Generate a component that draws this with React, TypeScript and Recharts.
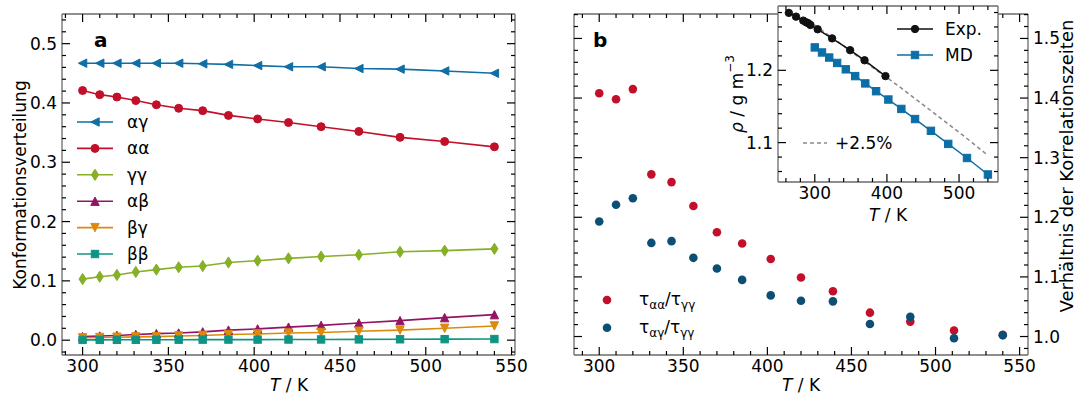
import React from 'react';
import { LineChart, ComposedChart, Line, Scatter, XAxis, YAxis, Legend, CartesianGrid } from 'recharts';

// ---------------- data ----------------
const temperatures = [300, 310, 320, 331, 343, 356, 370, 385, 402, 420, 439, 461, 485, 511, 540];
const alphaGamma = [0.467, 0.467, 0.467, 0.467, 0.467, 0.467, 0.466, 0.465, 0.463, 0.461, 0.461, 0.458, 0.457, 0.454, 0.45];
const alphaAlpha = [0.421, 0.414, 0.41, 0.404, 0.397, 0.391, 0.387, 0.379, 0.373, 0.367, 0.36, 0.352, 0.342, 0.335, 0.326];
const gammaGamma = [0.103, 0.107, 0.11, 0.115, 0.119, 0.123, 0.125, 0.131, 0.134, 0.138, 0.141, 0.144, 0.149, 0.151, 0.154];
const alphaBeta = [0.006, 0.007, 0.008, 0.0095, 0.011, 0.012, 0.014, 0.017, 0.019, 0.022, 0.025, 0.029, 0.033, 0.038, 0.043];
const betaGamma = [0.004, 0.0045, 0.005, 0.0055, 0.006, 0.007, 0.008, 0.0095, 0.0105, 0.012, 0.013, 0.015, 0.017, 0.02, 0.024];
const betaBeta = [0.0005, 0.0005, 0.0006, 0.0007, 0.0007, 0.0008, 0.0009, 0.001, 0.001, 0.0011, 0.0012, 0.0013, 0.0015, 0.0017, 0.0019];

const ratioAA = [1.408, 1.398, 1.415, 1.272, 1.259, 1.219, 1.175, 1.156, 1.13, 1.099, 1.076, 1.04, 1.025, 1.01, 1.003];
const ratioAG = [1.193, 1.221, 1.232, 1.157, 1.16, 1.132, 1.114, 1.095, 1.069, 1.06, 1.059, 1.021, 1.033, 0.997, 1.002];

const expTemperatures = [264, 274, 284, 288, 291, 294, 304, 324, 349, 369, 398];
const expDensity = [1.2795, 1.2743, 1.2688, 1.2665, 1.2651, 1.2628, 1.2568, 1.2442, 1.2279, 1.2139, 1.192];
const mdDensity = [1.2317, 1.2247, 1.2177, 1.2102, 1.2014, 1.192, 1.1819, 1.1711, 1.1596, 1.1466, 1.1326, 1.1163, 1.0982, 1.0787, 1.0559];
const mdDensityPlus = [1.2625, 1.2553, 1.2481, 1.2405, 1.2314, 1.2218, 1.2114, 1.2004, 1.1886, 1.1753, 1.1609, 1.1442, 1.1257, 1.1057, 1.0823];

// tick labels
const leftXMajor = [300, 350, 400, 450, 500, 550];
const leftYMajor = [0, 0.1, 0.2, 0.3, 0.4, 0.5];
const rightYMajor = [1.0, 1.1, 1.2, 1.3, 1.4, 1.5];
const insetXMajor = [300, 400, 500];
const insetYMajor = [1.1, 1.2];

// ---------------- helpers ----------------
const FONT = '"DejaVu Sans", sans-serif';
const steps = (a: number, b: number, s: number) => {
  const out: number[] = [];
  const n = Math.round((b - a) / s);
  for (let i = 0; i <= n; i++) out.push(Math.round((a + i * s) * 1e6) / 1e6);
  return out;
};

const C = {
  ag: '#0f6ea5',
  aa: '#c2102b',
  gg: '#86b026',
  ab: '#931465',
  bg: '#dc8a0c',
  bb: '#0f9484',
  ratioAG: '#0b4f75',
  md: '#0c6ea6',
};

type Side = 'bottom' | 'top' | 'left' | 'right';
function tickRenderer(side: Side, majors: number[], labels: boolean, digits: number) {
  return (props: any) => {
    const { x, y, payload, index } = props;
    const v = Number(payload.value);
    const isMajor = majors.some((m) => Math.abs(m - v) < 1e-7);
    const len = isMajor ? 8 : 4;
    let x2 = x;
    let y2 = y;
    if (side === 'bottom') y2 = y - len;
    else if (side === 'top') y2 = y + len;
    else if (side === 'left') x2 = x + len;
    else x2 = x - len;
    let label: any = null;
    if (labels && isMajor) {
      const t = v.toFixed(digits);
      const common = { fontSize: 17, fontFamily: FONT, fill: '#000' };
      if (side === 'bottom') label = <text x={x} y={y + 17} textAnchor="middle" {...common}>{t}</text>;
      else if (side === 'left') label = <text x={x - 5} y={y + 6} textAnchor="end" {...common}>{t}</text>;
      else if (side === 'right') label = <text x={x + 5} y={y + 6} textAnchor="start" {...common}>{t}</text>;
    }
    return (
      <g key={`tk-${side}-${index}`}>
        <line x1={x} y1={y} x2={x2} y2={y2} stroke="#000" strokeWidth={1.2} />
        {label}
      </g>
    );
  };
}

const frame = { stroke: '#6a6a6a', strokeWidth: 1.3 };

// markers
const triLeft = (cx: number, cy: number, s: number) => `${cx - s},${cy} ${cx + s},${cy - s} ${cx + s},${cy + s}`;
const triUp = (cx: number, cy: number, s: number) => `${cx},${cy - s} ${cx - s},${cy + s} ${cx + s},${cy + s}`;
const triDown = (cx: number, cy: number, s: number) => `${cx},${cy + s} ${cx - s},${cy - s} ${cx + s},${cy - s}`;
const diamond = (cx: number, cy: number) => `${cx},${cy - 5.6} ${cx + 3.6},${cy} ${cx},${cy + 5.6} ${cx - 3.6},${cy}`;

function Marker({ kind, cx, cy, color }: { kind: string; cx: number; cy: number; color: string }) {
  if (cx == null || cy == null || isNaN(cx) || isNaN(cy)) return <g />;
  const st = { fill: color, stroke: color, strokeWidth: 1 };
  switch (kind) {
    case 'left':
      return <polygon points={triLeft(cx, cy, 4.2)} {...st} />;
    case 'up':
      return <polygon points={triUp(cx, cy, 4.2)} {...st} />;
    case 'down':
      return <polygon points={triDown(cx, cy, 4.2)} {...st} />;
    case 'diamond':
      return <polygon points={diamond(cx, cy)} {...st} />;
    case 'square':
      return <rect x={cx - 3.7} y={cy - 3.7} width={7.4} height={7.4} {...st} />;
    case 'smallcircle':
      return <circle cx={cx} cy={cy} r={3.7} {...st} />;
    default:
      return <circle cx={cx} cy={cy} r={4} {...st} />;
  }
}

const dotFn = (kind: string, color: string) => (p: any) => (
  <Marker key={`m-${kind}-${p.index}`} kind={kind} cx={p.cx} cy={p.cy} color={color} />
);

// ---------------- tables ----------------
const leftData = temperatures.map((T, i) => ({
  T,
  ag: alphaGamma[i],
  aa: alphaAlpha[i],
  gg: gammaGamma[i],
  ab: alphaBeta[i],
  bg: betaGamma[i],
  bb: betaBeta[i],
}));
const ratioAAData = temperatures.map((T, i) => ({ T, r: ratioAA[i] }));
const ratioAGData = temperatures.map((T, i) => ({ T, r: ratioAG[i] }));
const expData = expTemperatures.map((T, i) => ({ T, rho: expDensity[i] }));
const mdData = temperatures.map((T, i) => ({ T, rho: mdDensity[i] }));
const mdPlusData = temperatures.map((T, i) => ({ T, rho: mdDensityPlus[i] }));

const leftSeries = [
  { key: 'ag', name: 'αγ', color: C.ag, marker: 'left' },
  { key: 'aa', name: 'αα', color: C.aa, marker: 'circle' },
  { key: 'gg', name: 'γγ', color: C.gg, marker: 'diamond' },
  { key: 'ab', name: 'αβ', color: C.ab, marker: 'up' },
  { key: 'bg', name: 'βγ', color: C.bg, marker: 'down' },
  { key: 'bb', name: 'ββ', color: C.bb, marker: 'square' },
];

// ---------------- legends ----------------
function LeftLegend() {
  return (
    <svg width={110} height={170} style={{ overflow: 'visible' }}>
      {leftSeries.map((s, i) => {
        const y = 17 + i * 26.4;
        return (
          <g key={s.key}>
            <line x1={7} x2={43} y1={y} y2={y} stroke={s.color} strokeWidth={1.6} />
            <Marker kind={s.marker} cx={25} cy={y} color={s.color} />
            <text x={57} y={y + 6} fontSize={17} fontFamily={FONT} fill="#000">{s.name}</text>
          </g>
        );
      })}
    </svg>
  );
}

function RightLegend() {
  const rows = [
    { color: C.aa, sub1: 'αα' },
    { color: C.ratioAG, sub1: 'αγ' },
  ];
  return (
    <svg width={160} height={60} style={{ overflow: 'visible' }}>
      {rows.map((r, i) => {
        const y = 15 + i * 27.7;
        return (
          <g key={i}>
            <circle cx={17} cy={y} r={4.3} fill={r.color} />
            <text x={49} y={y + 5} fontSize={17} fontFamily={FONT} fill="#000">
              τ<tspan fontSize={12} dy={4}>{r.sub1}</tspan>
              <tspan dy={-4}>/τ</tspan>
              <tspan fontSize={12} dy={4}>γγ</tspan>
            </text>
          </g>
        );
      })}
    </svg>
  );
}

function InsetLegend() {
  return (
    <svg width={220} height={176} style={{ overflow: 'visible' }}>
      <line x1={119} x2={155} y1={23} y2={23} stroke="#111" strokeWidth={1.5} />
      <Marker kind="smallcircle" cx={137} cy={23} color="#111" />
      <text x={167} y={29} fontSize={17} fontFamily={FONT} fill="#000">Exp.</text>
      <line x1={119} x2={155} y1={49} y2={49} stroke={C.md} strokeWidth={1.5} />
      <Marker kind="square" cx={137} cy={49} color={C.md} />
      <text x={167} y={55} fontSize={17} fontFamily={FONT} fill="#000">MD</text>
      <line x1={25} x2={49} y1={137} y2={137} stroke="#8a8a8a" strokeWidth={1.5} strokeDasharray="4 3" />
      <text x={57} y={143} fontSize={17} fontFamily={FONT} fill="#000">+2.5%</text>
    </svg>
  );
}

// common axis props (1px thick axes so that Recharts draws them; margins compensate)
const xProps = (id: string, side: Side, dom: [number, number], ticks: number[], majors: number[], labels: boolean) => ({
  xAxisId: id,
  orientation: side as any,
  dataKey: 'T',
  type: 'number' as const,
  domain: dom,
  allowDataOverflow: true,
  ticks,
  interval: 0 as const,
  height: 1,
  tickSize: 0,
  tickMargin: 0,
  tickLine: false,
  axisLine: frame,
  tick: tickRenderer(side, majors, labels, 0),
});
const yProps = (id: string, side: Side, key: string, dom: [number, number], ticks: number[], majors: number[], labels: boolean) => ({
  yAxisId: id,
  orientation: side as any,
  dataKey: key,
  type: 'number' as const,
  domain: dom,
  allowDataOverflow: true,
  ticks,
  interval: 0 as const,
  width: 1,
  tickSize: 0,
  tickMargin: 0,
  tickLine: false,
  axisLine: frame,
  tick: tickRenderer(side, majors, labels, 1),
});

// ---------------- charts ----------------
function LeftChart() {
  const xTicks = steps(290, 550, 10);
  const yTicks = steps(-0.02, 0.54, 0.02);
  const dom: [number, number] = [288, 552];
  const ydom: [number, number] = [-0.025, 0.55];
  return (
    <LineChart width={530} height={394} data={leftData} margin={{ top: 13, right: 14, bottom: 38, left: 61 }}>
      <XAxis {...xProps('b', 'bottom', dom, xTicks, leftXMajor, true)} />
      <XAxis {...xProps('t', 'top', dom, xTicks, leftXMajor, false)} />
      <YAxis {...yProps('l', 'left', 'ag', ydom, yTicks, leftYMajor, true)} />
      <YAxis {...yProps('r', 'right', 'ag', ydom, yTicks, leftYMajor, false)} />
      {leftSeries.map((s) => (
        <Line key={s.key} xAxisId="b" yAxisId="l" dataKey={s.key} name={s.name} stroke={s.color} strokeWidth={1.6}
          dot={dotFn(s.marker, s.color)} activeDot={false} isAnimationActive={false} />
      ))}
      <Legend layout="horizontal" verticalAlign="middle" align="center"
        wrapperStyle={{ left: 70, top: 105, width: 110, height: 170 }} content={() => <LeftLegend />} />
    </LineChart>
  );
}

function RightChart() {
  const xTicks = steps(290, 550, 10);
  const yTicks = steps(0.98, 1.54, 0.02);
  const dom: [number, number] = [285, 555];
  const ydom: [number, number] = [0.969, 1.541];
  return (
    <ComposedChart width={538} height={394} margin={{ top: 13, right: 49, bottom: 38, left: 33 }}>
      <XAxis {...xProps('b', 'bottom', dom, xTicks, leftXMajor, true)} />
      <XAxis {...xProps('t', 'top', dom, xTicks, leftXMajor, false)} />
      <YAxis {...yProps('l', 'left', 'r', ydom, yTicks, rightYMajor, false)} />
      <YAxis {...yProps('r', 'right', 'r', ydom, yTicks, rightYMajor, true)} />
      <Scatter xAxisId="b" yAxisId="r" data={ratioAAData} dataKey="r" name="ταα/τγγ" fill={C.aa} isAnimationActive={false}
        shape={(p: any) => <circle cx={p.cx} cy={p.cy} r={4.3} fill={C.aa} />} />
      <Scatter xAxisId="b" yAxisId="r" data={ratioAGData} dataKey="r" name="ταγ/τγγ" fill={C.ratioAG} isAnimationActive={false}
        shape={(p: any) => <circle cx={p.cx} cy={p.cy} r={4.3} fill={C.ratioAG} />} />
      <Legend layout="horizontal" verticalAlign="middle" align="center"
        wrapperStyle={{ left: 50, top: 285, width: 160, height: 60 }} content={() => <RightLegend />} />
    </ComposedChart>
  );
}

function InsetChart() {
  const xTicks = steps(260, 540, 20);
  const yTicks = steps(1.06, 1.28, 0.02);
  const dom: [number, number] = [249, 554];
  const ydom: [number, number] = [1.0455, 1.289];
  return (
    <ComposedChart width={320} height={230} margin={{ top: 5, right: 21, bottom: 47, left: 77 }}>
      <CartesianGrid xAxisId="b" yAxisId="l" horizontal={false} vertical={false} fill="#ffffff" fillOpacity={1} stroke="none" />
      <XAxis {...xProps('b', 'bottom', dom, xTicks, insetXMajor, true)} />
      <XAxis {...xProps('t', 'top', dom, xTicks, insetXMajor, false)} />
      <YAxis {...yProps('l', 'left', 'rho', ydom, yTicks, insetYMajor, true)} />
      <YAxis {...yProps('r', 'right', 'rho', ydom, yTicks, insetYMajor, false)} />
      <Line xAxisId="b" yAxisId="l" data={mdPlusData} dataKey="rho" name="+2.5%" stroke="#8a8a8a" strokeWidth={1.5}
        strokeDasharray="4 3" dot={false} activeDot={false} isAnimationActive={false} />
      <Line xAxisId="b" yAxisId="l" data={expData} dataKey="rho" name="Exp." stroke="#111" strokeWidth={1.5}
        dot={dotFn('smallcircle', '#111')} activeDot={false} isAnimationActive={false} />
      <Line xAxisId="b" yAxisId="l" data={mdData} dataKey="rho" name="MD" stroke={C.md} strokeWidth={1.5}
        dot={dotFn('square', C.md)} activeDot={false} isAnimationActive={false} />
      <Legend layout="horizontal" verticalAlign="middle" align="center"
        wrapperStyle={{ left: 78, top: 6, width: 220, height: 176 }} content={() => <InsetLegend />} />
    </ComposedChart>
  );
}

function Overlay() {
  const t = { fontFamily: FONT, fontSize: 17, fill: '#000' };
  return (
    <svg width={1078} height={394} style={{ position: 'absolute', left: 0, top: 0, pointerEvents: 'none' }}>
      <text x={94} y={47} fontFamily={FONT} fontSize={20} fontWeight="bold">a</text>
      <text x={593} y={47} fontFamily={FONT} fontSize={20} fontWeight="bold">b</text>
      <text x={289} y={391} textAnchor="middle" {...t}><tspan fontStyle="italic">T</tspan> / K</text>
      <text x={801} y={391} textAnchor="middle" {...t}><tspan fontStyle="italic">T</tspan> / K</text>
      <text x={888} y={221} textAnchor="middle" {...t}><tspan fontStyle="italic">T</tspan> / K</text>
      <text transform="translate(20,185) rotate(-90)" textAnchor="middle" dominantBaseline="central" {...t}>Konformationsverteilung</text>
      <text transform="translate(1073,166) rotate(-90)" textAnchor="middle" {...t} fontSize={18}>Verhältnis der Korrelationszeiten</text>
      <text transform="translate(737,94) rotate(-90)" textAnchor="middle" dominantBaseline="central" {...t}>
        <tspan fontStyle="italic">ρ</tspan> / g m<tspan fontSize={12} dy={-7}>−3</tspan>
      </text>
    </svg>
  );
}

export default function App() {
  return (
    <div style={{ position: 'absolute', left: 0, top: 0, width: 1078, height: 394, background: '#fff', fontFamily: FONT }}>
      <div style={{ position: 'absolute', left: 0, top: 0 }}>
        <LeftChart />
      </div>
      <div style={{ position: 'absolute', left: 540, top: 0 }}>
        <RightChart />
      </div>
      <div style={{ position: 'absolute', left: 700, top: 0 }}>
        <InsetChart />
      </div>
      <Overlay />
    </div>
  );
}
